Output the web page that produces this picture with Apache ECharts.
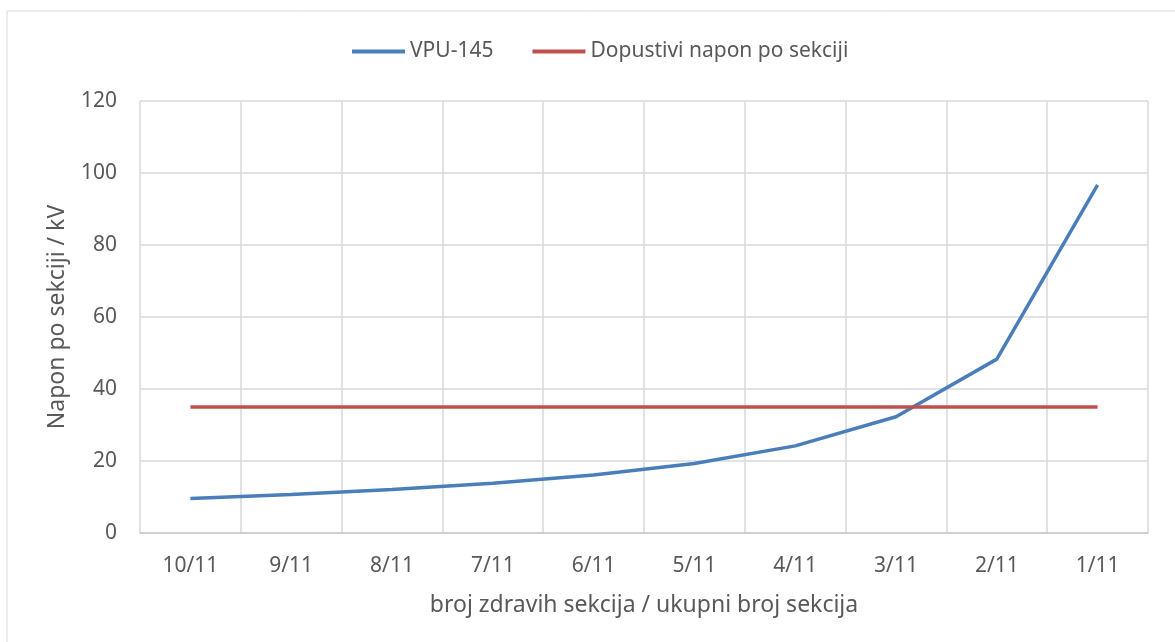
<!DOCTYPE html>
<html>
<head>
<meta charset="utf-8">
<script src="https://cdn.jsdelivr.net/npm/echarts@6/dist/echarts.min.js"></script>
<style>
  html, body { margin: 0; padding: 0; background: #fff; }
  #chart { width: 1175px; height: 642px; }
</style>
</head>
<body>
<div id="chart"></div>
<script>
// kategorije: broj zdravih sekcija / ukupni broj sekcija
const categories = ['10/11', '9/11', '8/11', '7/11', '6/11', '5/11', '4/11', '3/11', '2/11', '1/11'];
const vpu145 = [9.6, 10.7, 12.1, 13.8, 16.1, 19.3, 24.2, 32.3, 48.3, 96.7];
const dopustivi = [35, 35, 35, 35, 35, 35, 35, 35, 35, 35];
const yTicks = [0, 20, 40, 60, 80, 100, 120];

const font = '"Noto Sans", "Open Sans", sans-serif';
const textColor = '#595959';
const gridColor = '#d9d9d9';

const chart = echarts.init(document.getElementById('chart'));
const option = {
  animation: false,
  textStyle: { fontFamily: font },
  graphic: [
    {
      type: 'rect',
      shape: { x: 7, y: 11, width: 1180, height: 640 },
      style: { fill: 'none', stroke: '#d9d9d9', lineWidth: 1 },
      silent: true
    }
  ],
  legend: {
    top: 36,
    left: 347,
    itemWidth: 53,
    itemHeight: 4,
    itemGap: 39,
    icon: 'rect',
    textStyle: { color: textColor, fontSize: 21, fontFamily: font },
    data: ['VPU-145', 'Dopustivi napon po sekciji']
  },
  grid: { left: 140, right: 27, top: 101, bottom: 109 },
  xAxis: {
    type: 'category',
    data: categories,
    boundaryGap: true,
    name: 'broj zdravih sekcija / ukupni broj sekcija',
    nameLocation: 'middle',
    nameGap: 61,
    nameTextStyle: { color: textColor, fontSize: 23, fontFamily: font },
    axisLine: { lineStyle: { color: '#cacaca', width: 1.5 } },
    axisTick: { show: false },
    axisLabel: { color: textColor, fontSize: 21, margin: 23, fontFamily: font },
    splitLine: { show: true, lineStyle: { color: gridColor, width: 1.5 } }
  },
  yAxis: {
    type: 'value',
    min: yTicks[0],
    max: yTicks[yTicks.length - 1],
    interval: 20,
    name: 'Napon po sekciji / kV',
    nameLocation: 'middle',
    nameGap: 71,
    nameRotate: 90,
    nameTextStyle: { color: textColor, fontSize: 23, fontFamily: font },
    axisLine: { show: false },
    axisTick: { show: false },
    axisLabel: { color: textColor, fontSize: 21, margin: 23, fontFamily: font },
    splitLine: { lineStyle: { color: gridColor, width: 1.5 } }
  },
  series: [
    {
      name: 'VPU-145',
      type: 'line',
      data: vpu145,
      symbol: 'none',
      smooth: false,
      lineStyle: { color: '#4a7ebb', width: 3.5 },
      itemStyle: { color: '#4a7ebb' }
    },
    {
      name: 'Dopustivi napon po sekciji',
      type: 'line',
      data: dopustivi,
      symbol: 'none',
      lineStyle: { color: '#c0504d', width: 3.5 },
      itemStyle: { color: '#c0504d' }
    }
  ]
};
chart.setOption(option);
</script>
</body>
</html>
